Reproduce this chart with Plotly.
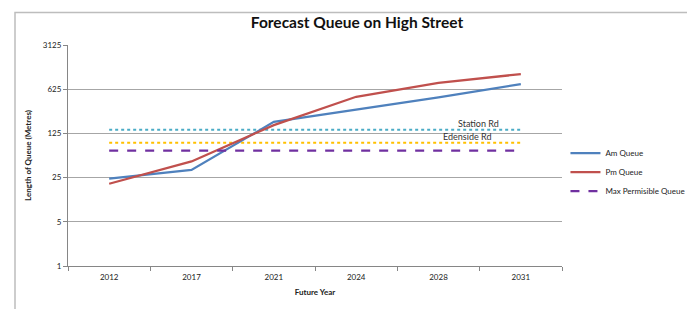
import plotly.graph_objects as go
import math

years = ["2012", "2017", "2021", "2024", "2028", "2031"]
am_queue = [24, 33, 190, 297, 464, 754]
pm_queue = [20, 45, 169, 474, 789, 1083]
max_permissible = [67, 67, 67, 67, 67, 67]
station_rd = [143, 143, 143, 143, 143, 143]
edenside_rd = [89, 89, 89, 89, 89, 89]
y_ticks = [1, 5, 25, 125, 625, 3125]

FONT = "Lato"
fig = go.Figure()

fig.add_trace(go.Scatter(x=years, y=station_rd, mode="lines", showlegend=False,
                         line=dict(color="#4BACC6", width=2, dash="dot"), name="Station Rd"))
fig.add_trace(go.Scatter(x=years, y=edenside_rd, mode="lines", showlegend=False,
                         line=dict(color="#FFC000", width=2, dash="dot"), name="Edenside Rd"))
fig.add_trace(go.Scatter(x=years, y=am_queue, mode="lines", name="Am Queue",
                         line=dict(color="#4F81BD", width=2.25)))
fig.add_trace(go.Scatter(x=years, y=pm_queue, mode="lines", name="Pm Queue",
                         line=dict(color="#C0504D", width=2.25)))
fig.add_trace(go.Scatter(x=years, y=max_permissible, mode="lines", name="Max Permisible Queue",
                         line=dict(color="#7030A0", width=2.25, dash="dash")))

fig.add_annotation(x=4.48, y=math.log10(station_rd[0]), text="Station Rd", showarrow=False,
                   yshift=6, font=dict(family=FONT, size=9, color="#333333"))
fig.add_annotation(x=4.35, y=math.log10(edenside_rd[0]), text="Edenside Rd", showarrow=False,
                   yshift=6, font=dict(family=FONT, size=9, color="#333333"))

# outer chart frame (drawn in pixel-based paper fractions)
L, R, T, B = 68, 562, 45, 266
W, H = R - L, B - T
def px(x): return (x - L) / W
def py(y): return (B - y) / H
fig.add_shape(type="rect", xref="paper", yref="paper", x0=px(15), x1=px(700), y0=py(12.5), y1=py(313.5),
              line=dict(color="#BDBDBD", width=1.5), fillcolor="rgba(0,0,0,0)", layer="below")

fig.update_layout(
    width=687, height=309,
    margin=dict(l=L, r=687 - R, t=T, b=309 - B, autoexpand=False),
    paper_bgcolor="white", plot_bgcolor="white",
    title=dict(text="<b>Forecast Queue on High Street</b>", x=357 / 687, xanchor="center",
               y=1 - 23 / 309, yanchor="middle", font=dict(family=FONT, size=15.5, color="#111111")),
    font=dict(family=FONT, size=8, color="#222222"),
    legend=dict(x=1.007, y=0.425, xanchor="left", yanchor="middle", font=dict(family=FONT, size=8),
                bgcolor="rgba(0,0,0,0)", tracegroupgap=0, itemwidth=30),
    xaxis=dict(type="category", range=[-0.5, 5.5], showgrid=False, showline=True,
               linecolor="#868686", linewidth=1,
               ticks="outside", tickson="boundaries", ticklen=4, tickcolor="#868686",
               tickfont=dict(family=FONT, size=8), ticklabelstandoff=3,
               title=dict(text="<b>Future Year</b>", font=dict(family=FONT, size=8), standoff=8)),
    yaxis=dict(type="log", range=[0, math.log10(3125)], tickvals=y_ticks,
               ticktext=[str(v) for v in y_ticks],
               showgrid=True, gridcolor="#A6A6A6", gridwidth=1,
               showline=True, linecolor="#868686", linewidth=1,
               ticks="outside", ticklen=4, tickcolor="#868686",
               tickfont=dict(family=FONT, size=8),
               title=dict(text="<b>Length of Queue (Metres)</b>", font=dict(family=FONT, size=8), standoff=10)),
)

fig.write_html("out.html", config={"displayModeBar": False},
               post_script="document.body.style.margin='0';")
